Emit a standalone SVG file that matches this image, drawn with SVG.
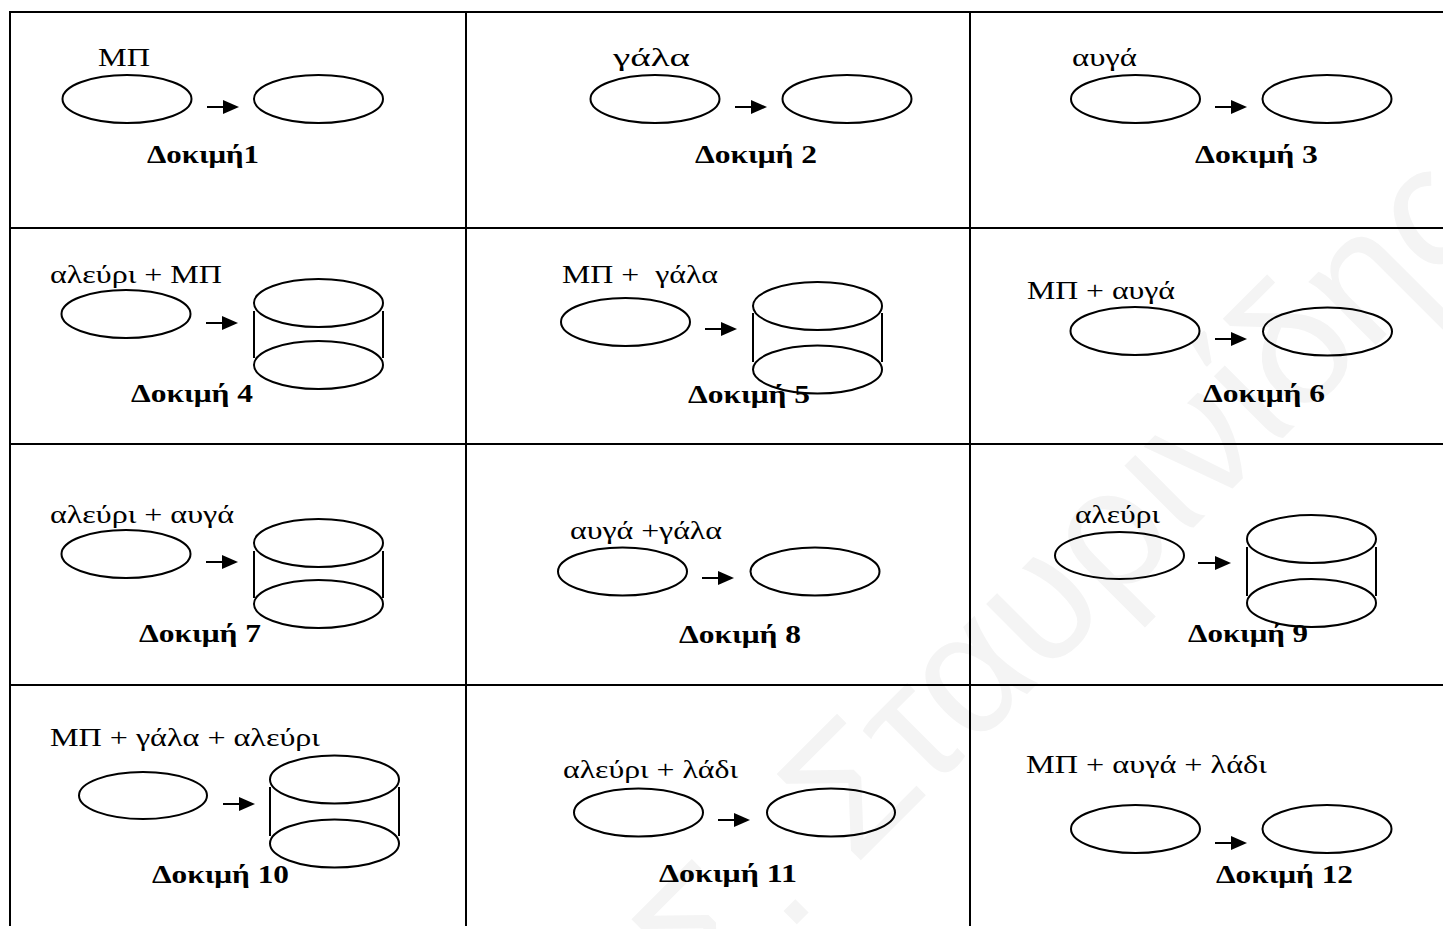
<svg xmlns="http://www.w3.org/2000/svg" width="1443" height="929" viewBox="0 0 1443 929">
  <style>
    .grid { stroke: #000; stroke-width: 2; fill: none; }
    .pot { stroke: #000; stroke-width: 2; fill: none; }
    .flow { stroke: #000; stroke-width: 2; fill: none; }
    .mix { font-family: "Liberation Serif", "Times New Roman", serif; font-size: 25px; fill: #000; }
    .tag { font-family: "Liberation Serif", "Times New Roman", serif; font-size: 26px; font-weight: bold; fill: #000; }
    .mark { font-family: "Liberation Sans", Arial, sans-serif; font-size: 175px; fill: #f4f4f4; }
  </style>
  <defs>
    <marker id="head" markerUnits="userSpaceOnUse" markerWidth="16" markerHeight="14" refX="6" refY="7" orient="auto">
      <path d="M0,0 L16,7 L0,14 z" fill="#000"/>
    </marker>
  </defs>

  <rect width="1443" height="929" fill="#fff"/>

  <!-- faint background watermark -->
  <text class="mark" transform="translate(709,1012) rotate(-45)">Σ. Σταυρινίδης</text>

  <!-- table rules -->
  <g id="table" class="grid">
    <line x1="9" y1="12" x2="1443" y2="12"/>
    <line x1="9" y1="228" x2="1443" y2="228"/>
    <line x1="9" y1="444" x2="1443" y2="444"/>
    <line x1="9" y1="685" x2="1443" y2="685"/>
    <line x1="10" y1="11" x2="10" y2="926"/>
    <line x1="466" y1="11" x2="466" y2="926"/>
    <line x1="970" y1="11" x2="970" y2="926"/>
  </g>

  <!-- arrows between the dishes -->
  <g id="connectors" class="flow" marker-end="url(#head)">
    <line x1="207" y1="107" x2="229" y2="107"/>
    <line x1="735" y1="107" x2="757" y2="107"/>
    <line x1="1215" y1="107" x2="1237" y2="107"/>
    <line x1="206" y1="323" x2="228" y2="323"/>
    <line x1="705" y1="329" x2="727" y2="329"/>
    <line x1="1215" y1="339" x2="1237" y2="339"/>
    <line x1="206" y1="562" x2="228" y2="562"/>
    <line x1="702" y1="578" x2="724" y2="578"/>
    <line x1="1198" y1="563" x2="1221" y2="563"/>
    <line x1="223" y1="804" x2="245" y2="804"/>
    <line x1="718" y1="820" x2="740" y2="820"/>
    <line x1="1215" y1="843" x2="1237" y2="843"/>
  </g>

  <!-- test 1 -->
  <g id="test1">
    <text class="mix" x="98" y="66" textLength="52" lengthAdjust="spacingAndGlyphs">ΜΠ</text>
    <ellipse class="pot" cx="127" cy="99" rx="64.5" ry="24"/>
    <ellipse class="pot" cx="318.5" cy="99" rx="64.5" ry="24"/>
    <text class="tag" x="147" y="163" textLength="112" lengthAdjust="spacingAndGlyphs">Δοκιμή1</text>
  </g>

  <!-- test 2 -->
  <g id="test2">
    <text class="mix" x="613" y="66" textLength="77" lengthAdjust="spacingAndGlyphs">γάλα</text>
    <ellipse class="pot" cx="655" cy="99" rx="64.5" ry="24"/>
    <ellipse class="pot" cx="847" cy="99" rx="64.5" ry="24"/>
    <text class="tag" x="695" y="163" textLength="122" lengthAdjust="spacingAndGlyphs">Δοκιμή 2</text>
  </g>

  <!-- test 3 -->
  <g id="test3">
    <text class="mix" x="1072" y="66" textLength="65" lengthAdjust="spacingAndGlyphs">αυγά</text>
    <ellipse class="pot" cx="1135.5" cy="99" rx="64.5" ry="24"/>
    <ellipse class="pot" cx="1327" cy="99" rx="64.5" ry="24"/>
    <text class="tag" x="1195" y="163" textLength="123" lengthAdjust="spacingAndGlyphs">Δοκιμή 3</text>
  </g>

  <!-- test 4 -->
  <g id="test4">
    <text class="mix" x="50" y="283" textLength="172" lengthAdjust="spacingAndGlyphs">αλεύρι + ΜΠ</text>
    <ellipse class="pot" cx="126" cy="314" rx="64.5" ry="24"/>
    <ellipse class="pot" cx="318.5" cy="303" rx="64.5" ry="24"/>
    <ellipse class="pot" cx="318.5" cy="365" rx="64.5" ry="24"/>
    <line class="pot" x1="254" y1="311" x2="254" y2="358"/>
    <line class="pot" x1="383" y1="311" x2="383" y2="358"/>
    <text class="tag" x="131" y="402" textLength="122" lengthAdjust="spacingAndGlyphs">Δοκιμή 4</text>
  </g>

  <!-- test 5 -->
  <g id="test5">
    <text class="mix" x="562" y="283" textLength="156" lengthAdjust="spacingAndGlyphs" xml:space="preserve">ΜΠ +  γάλα</text>
    <ellipse class="pot" cx="625.5" cy="322" rx="64.5" ry="24"/>
    <ellipse class="pot" cx="817.5" cy="306" rx="64.5" ry="24"/>
    <ellipse class="pot" cx="817.5" cy="369.5" rx="64.5" ry="24"/>
    <line class="pot" x1="753" y1="313" x2="753" y2="362"/>
    <line class="pot" x1="882" y1="313" x2="882" y2="362"/>
    <text class="tag" x="688" y="403" textLength="122" lengthAdjust="spacingAndGlyphs">Δοκιμή 5</text>
  </g>

  <!-- test 6 -->
  <g id="test6">
    <text class="mix" x="1027" y="299" textLength="148" lengthAdjust="spacingAndGlyphs">ΜΠ + αυγά</text>
    <ellipse class="pot" cx="1135" cy="331" rx="64.5" ry="24"/>
    <ellipse class="pot" cx="1327.5" cy="331.5" rx="64.5" ry="24"/>
    <text class="tag" x="1203" y="402" textLength="122" lengthAdjust="spacingAndGlyphs">Δοκιμή 6</text>
  </g>

  <!-- test 7 -->
  <g id="test7">
    <text class="mix" x="50" y="523" textLength="184" lengthAdjust="spacingAndGlyphs">αλεύρι + αυγά</text>
    <ellipse class="pot" cx="126" cy="554" rx="64.5" ry="24"/>
    <ellipse class="pot" cx="318.5" cy="543" rx="64.5" ry="24"/>
    <ellipse class="pot" cx="318.5" cy="604" rx="64.5" ry="24"/>
    <line class="pot" x1="254" y1="551" x2="254" y2="598"/>
    <line class="pot" x1="383" y1="551" x2="383" y2="598"/>
    <text class="tag" x="139" y="642" textLength="122" lengthAdjust="spacingAndGlyphs">Δοκιμή 7</text>
  </g>

  <!-- test 8 -->
  <g id="test8">
    <text class="mix" x="570" y="539" textLength="152" lengthAdjust="spacingAndGlyphs">αυγά +γάλα</text>
    <ellipse class="pot" cx="622.5" cy="571.5" rx="64.5" ry="24"/>
    <ellipse class="pot" cx="815" cy="571.5" rx="64.5" ry="24"/>
    <text class="tag" x="679" y="643" textLength="122" lengthAdjust="spacingAndGlyphs">Δοκιμή 8</text>
  </g>

  <!-- test 9 -->
  <g id="test9">
    <text class="mix" x="1075" y="523" textLength="85" lengthAdjust="spacingAndGlyphs">αλεύρι</text>
    <ellipse class="pot" cx="1119.5" cy="555.5" rx="64.5" ry="23.5"/>
    <ellipse class="pot" cx="1311.5" cy="539" rx="64.5" ry="24"/>
    <ellipse class="pot" cx="1311.5" cy="603" rx="64.5" ry="24"/>
    <line class="pot" x1="1247" y1="547" x2="1247" y2="596"/>
    <line class="pot" x1="1376" y1="547" x2="1376" y2="596"/>
    <text class="tag" x="1188" y="642" textLength="120" lengthAdjust="spacingAndGlyphs">Δοκιμή 9</text>
  </g>

  <!-- test 10 -->
  <g id="test10">
    <text class="mix" x="50" y="746" textLength="270" lengthAdjust="spacingAndGlyphs">ΜΠ + γάλα + αλεύρι</text>
    <ellipse class="pot" cx="143" cy="795.5" rx="64" ry="23.5"/>
    <ellipse class="pot" cx="334.5" cy="779.5" rx="64.5" ry="24"/>
    <ellipse class="pot" cx="334.5" cy="843.5" rx="64.5" ry="24"/>
    <line class="pot" x1="270" y1="787" x2="270" y2="836"/>
    <line class="pot" x1="399" y1="787" x2="399" y2="836"/>
    <text class="tag" x="152" y="883" textLength="137" lengthAdjust="spacingAndGlyphs">Δοκιμή 10</text>
  </g>

  <!-- test 11 -->
  <g id="test11">
    <text class="mix" x="563" y="778" textLength="175" lengthAdjust="spacingAndGlyphs">αλεύρι + λάδι</text>
    <ellipse class="pot" cx="638.5" cy="812.5" rx="64.5" ry="24"/>
    <ellipse class="pot" cx="831" cy="812.5" rx="64" ry="24"/>
    <text class="tag" x="659" y="882" textLength="138" lengthAdjust="spacingAndGlyphs">Δοκιμή 11</text>
  </g>

  <!-- test 12 -->
  <g id="test12">
    <text class="mix" x="1026" y="773" textLength="241" lengthAdjust="spacingAndGlyphs">ΜΠ + αυγά + λάδι</text>
    <ellipse class="pot" cx="1135.5" cy="829" rx="64.5" ry="24"/>
    <ellipse class="pot" cx="1327" cy="829" rx="64.5" ry="24"/>
    <text class="tag" x="1216" y="883" textLength="137" lengthAdjust="spacingAndGlyphs">Δοκιμή 12</text>
  </g>
</svg>
